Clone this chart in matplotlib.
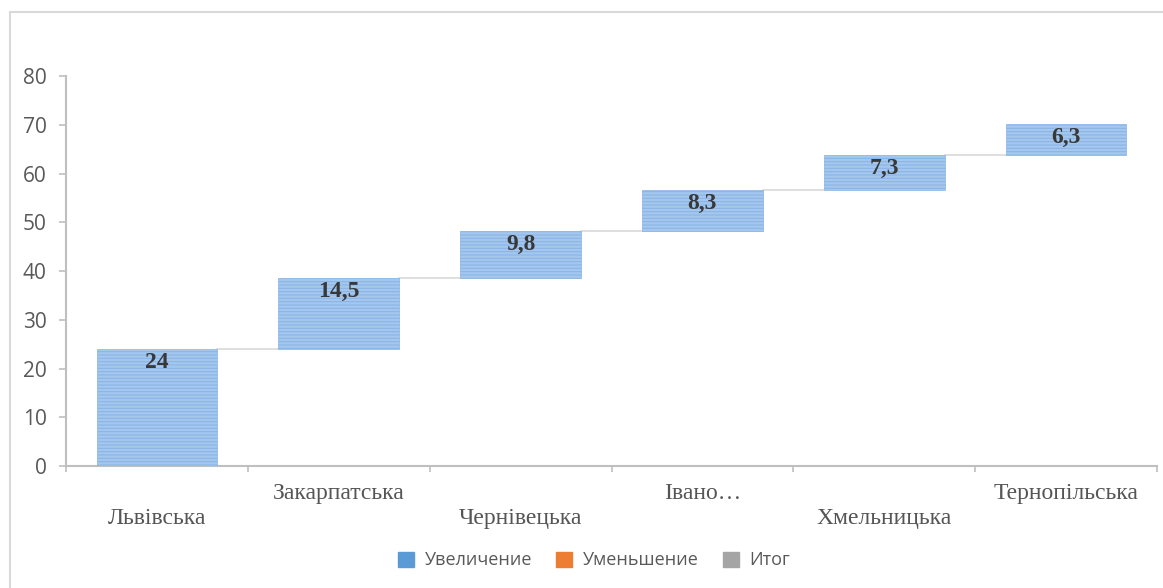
import numpy as np
import matplotlib.pyplot as plt
from matplotlib.patches import Patch, Rectangle

regions = ['Львівська', 'Закарпатська', 'Чернівецька', 'Івано…', 'Хмельницька', 'Тернопільська']
values = [24, 14.5, 9.8, 8.3, 7.3, 6.3]
value_labels = ['24', '14,5', '9,8', '8,3', '7,3', '6,3']
legend_labels = ['Увеличение', 'Уменьшение', 'Итог']

bottoms = np.concatenate([[0], np.cumsum(values)[:-1]])
tops = bottoms + np.array(values)
x = np.arange(len(regions))

plt.rcParams['hatch.color'] = '#78a9e0'
plt.rcParams['hatch.linewidth'] = 0.7

fig = plt.figure(figsize=(11.63, 5.88), dpi=100)
ax = fig.add_axes([0.0568, 0.2075, 0.938, 0.663])

ax.bar(x, values, bottom=bottoms, width=0.665, color='#a5c7ee', edgecolor='#86b3e6',
       linewidth=0.5, hatch='-----', zorder=3)

# connector lines between the bars
for i in range(len(x) - 1):
    ax.plot([x[i] + 0.3325, x[i + 1] - 0.3325], [tops[i], tops[i]], color='#d9d9d9', lw=1.2, zorder=2)

for xi, t, lab in zip(x, tops, value_labels):
    ax.text(xi, t - 0.6, lab, ha='center', va='top', fontsize=17, fontweight='bold',
            family='Liberation Serif', color='#383838', zorder=4)

ax.set_xlim(-0.5, len(x) - 0.5)
ax.set_ylim(0, 80)
ax.set_yticks(range(0, 81, 10))
ax.tick_params(axis='y', labelsize=15, labelcolor='#595959', color='#bfbfbf', length=5, width=1.2, pad=9)
for lab in ax.get_yticklabels():
    lab.set_family('Open Sans')

ax.set_xticks(x)
ax.set_xticklabels([])
ax.set_xticks(np.arange(-0.5, len(x), 1), minor=True)
ax.tick_params(axis='x', which='major', length=0)
ax.tick_params(axis='x', which='minor', length=4, color='#bfbfbf', width=1.2)
for i, name in enumerate(regions):
    off = -0.135 if i % 2 == 0 else -0.07
    ax.text(i, off, name, transform=ax.get_xaxis_transform(), ha='center', va='center',
            fontsize=17, family='Liberation Serif', color='#555555')

for s in ['top', 'right']:
    ax.spines[s].set_visible(False)
for s in ['left', 'bottom']:
    ax.spines[s].set_color('#bfbfbf')
    ax.spines[s].set_linewidth(1.5)

handles = [Patch(color=c) for c in ['#5b9bd5', '#ed7d31', '#a5a5a5']]
leg = fig.legend(handles, legend_labels, loc='center', bbox_to_anchor=(0.511, 0.047), ncol=3,
                 frameon=False, fontsize=13, handlelength=0.9, handleheight=0.9,
                 columnspacing=1.3, handletextpad=0.6)
for t in leg.get_texts():
    t.set_color('#595959')
    t.set_family('Open Sans')

fig.patches.append(Rectangle((0.009, -0.1), 1.1, 1.08, transform=fig.transFigure,
                             fill=False, edgecolor='#d9d9d9', lw=1.5))

fig.savefig('out.png', dpi=100)
